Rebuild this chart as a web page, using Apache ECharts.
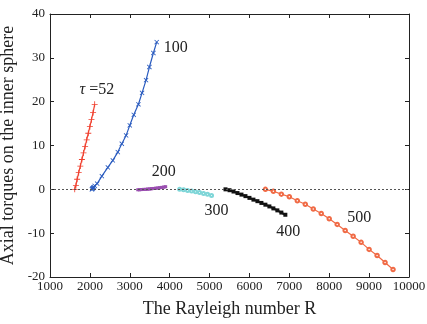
<!DOCTYPE html>
<html><head><meta charset="utf-8">
<script src="https://cdn.jsdelivr.net/npm/echarts@6/dist/echarts.min.js"></script>
<style>html,body{margin:0;padding:0;background:#fff}#c{width:427px;height:324px}</style>
</head><body><div id="c"></div>
<script>
// X ticks / Y ticks
const xTicks = [1000,2000,3000,4000,5000,6000,7000,8000,9000,10000];
const yTicks = [-20,-10,0,10,20,30,40];

// tau = 52 (red)
const redR = [1620,1650,1680,1720,1760,1800,1840,1880,1920,1960,2000,2040,2080,2120];
const redT = [0,0.9,2.3,3.8,5.3,6.8,8.3,9.8,11.3,12.8,14.3,15.9,17.5,19.4];
// tau = 100 (blue)
const blueR = [2050,2060,2070,2080,2090,2100,2120,2183,2300,2450,2575,2700,2800,2908,3000,3100,3217,3308,3408,3492,3592,3675];
const blueT = [0,0.1,0.2,0.3,0.4,0.5,0.8,1.3,3.0,5.0,6.6,8.5,10.4,12.3,14.6,17.0,19.4,22.0,24.9,27.9,31.1,33.6];
// tau = 200 (purple)
const purpleR = [3200,3250,3300,3350,3400,3450,3500,3550,3600,3650,3700,3750,3800,3850,3900];
const purpleT = [-0.1,-0.1,-0.05,0,0,0.05,0.1,0.15,0.2,0.25,0.3,0.35,0.45,0.5,0.6];
// tau = 300 (cyan)
const cyanR = [4250,4350,4450,4550,4650,4750,4850,4950,5050];
const cyanT = [0,-0.1,-0.25,-0.4,-0.55,-0.75,-0.95,-1.15,-1.4];
// tau = 400 (black)
const blackR = [5400,5500,5600,5700,5800,5900,6000,6100,6200,6300,6400,6500,6600,6700,6800,6900];
const blackT = [0,-0.2,-0.5,-0.85,-1.2,-1.55,-1.95,-2.35,-2.7,-3.1,-3.5,-3.9,-4.35,-4.8,-5.3,-5.8];
// tau = 500 (orange)
const orangeR = [6400,6600,6800,7000,7200,7400,7600,7800,8000,8200,8400,8600,8800,9000,9200,9400,9600];
const orangeT = [0,-0.45,-1.1,-1.7,-2.6,-3.4,-4.5,-5.5,-6.7,-8.0,-9.4,-10.7,-12.1,-13.7,-15.1,-16.7,-18.3];

// annotation labels
const labelText = ['{i|\u03c4} =52','100','200','300','400','500'];
const labelR = [2175,4150,3850,5175,6975,8750];
const labelT = [22.6,32.4,3.9,-4.8,-9.8,-6.6];

const zip = (a,b) => a.map((v,i)=>[v,b[i]]);
const serif = 'Liberation Serif';
const plus = 'path://M4.3,0H5.7V4.3H10V5.7H5.7V10H4.3V5.7H0V4.3H4.3Z';

const chart = echarts.init(document.getElementById('c'));
const axCommon = {
  axisLine:{onZero:false,lineStyle:{color:'#222',width:1}},
  axisTick:{inside:true,length:4,lineStyle:{color:'#222'}},
  splitLine:{show:false},
};
chart.setOption({
  animation:false,
  backgroundColor:'#fff',
  grid:{left:50,right:18,top:14,bottom:47,containLabel:false,outerBoundsMode:'none'},
  xAxis:[{
    type:'value',min:xTicks[0],max:xTicks[xTicks.length-1],interval:1000,
    ...axCommon,
    axisLabel:{fontFamily:serif,fontSize:13,color:'#222',margin:3,formatter:v=>String(v)},
    name:'The Rayleigh number R',nameLocation:'middle',nameGap:23,
    nameTextStyle:{fontFamily:serif,fontSize:18,color:'#222'}
  },{
    type:'value',position:'top',min:xTicks[0],max:xTicks[xTicks.length-1],interval:1000,
    ...axCommon,axisLabel:{show:false}
  }],
  yAxis:[{
    type:'value',min:yTicks[0],max:yTicks[yTicks.length-1],interval:10,
    ...axCommon,
    axisLabel:{fontFamily:serif,fontSize:13,color:'#222',margin:5,formatter:v=>String(v)},
    name:'Axial torques on the inner sphere',nameLocation:'middle',nameGap:27,
    nameTextStyle:{fontFamily:serif,fontSize:18,color:'#222'}
  },{
    type:'value',position:'right',min:yTicks[0],max:yTicks[yTicks.length-1],interval:10,
    ...axCommon,axisLabel:{show:false}
  }],
  series:[
    {type:'line',data:zip(redR,redT),symbol:plus,symbolSize:6,showAllSymbol:true,
     lineStyle:{color:'#f0402f',width:1.2},itemStyle:{color:'#f0402f'},
     markLine:{silent:true,symbol:['none','none'],label:{show:false},
       lineStyle:{color:'#555',type:[2,2],width:1},data:[{yAxis:0}]},
     markPoint:{symbol:'circle',symbolSize:0,
       label:{show:true,position:'inside',fontFamily:serif,fontSize:16,color:'#222',formatter:p=>p.name,
         rich:{i:{fontFamily:serif,fontSize:16,fontStyle:'italic',color:'#222'}}},
       data:labelText.map((t,i)=>({name:t,coord:[labelR[i],labelT[i]]}))}
    },
    {type:'line',data:zip(blueR,blueT),symbol:plus,symbolRotate:45,symbolSize:6,showAllSymbol:true,
     lineStyle:{color:'#2a5bbf',width:1.2},itemStyle:{color:'#2a5bbf'}},
    {type:'line',data:zip(purpleR,purpleT),symbol:'rect',symbolSize:3,showAllSymbol:true,
     lineStyle:{color:'#9a4fb0',width:3},itemStyle:{color:'#9a4fb0'}},
    {type:'line',data:zip(cyanR,cyanT),symbol:'emptyCircle',symbolSize:3,showAllSymbol:true,
     lineStyle:{color:'#7fd6d8',width:2},itemStyle:{color:'#7fd6d8',borderWidth:1}},
    {type:'line',data:zip(blackR,blackT),symbol:'rect',symbolSize:4,showAllSymbol:true,
     lineStyle:{color:'#111',width:2},itemStyle:{color:'#111'}},
    {type:'line',data:zip(orangeR,orangeT),symbol:'emptyCircle',symbolSize:3.5,showAllSymbol:true,
     lineStyle:{color:'#f06a45',width:1.2},itemStyle:{color:'#f06a45',borderWidth:1}}
  ]
});
</script></body></html>
